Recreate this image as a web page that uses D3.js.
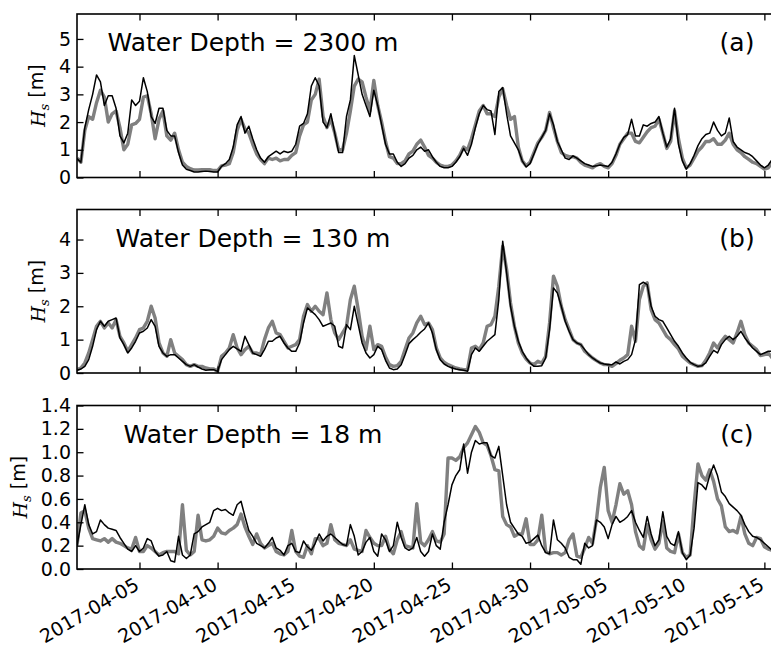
<!DOCTYPE html>
<html>
<head>
<meta charset="utf-8">
<script src="https://cdn.jsdelivr.net/npm/d3@7"></script>
<style>
  body { margin: 0; background: #fff; }
  svg { display: block; font-family: "DejaVu Sans", sans-serif; }
</style>
</head>
<body>
<svg id="chart" width="771" height="646"></svg>
<script>
// time axis: 6-hourly samples from 2017-04-01 00:00 UTC
const startDate = new Date(Date.UTC(2017, 3, 1));
const endDate = new Date(Date.UTC(2017, 4, 16));
const stepHours = 6;
const tickDates = ["2017-04-05", "2017-04-10", "2017-04-15", "2017-04-20", "2017-04-25",
                   "2017-04-30", "2017-05-05", "2017-05-10", "2017-05-15"];

const depthLabels = ["Water Depth = 2300 m", "Water Depth = 130 m", "Water Depth = 18 m"];
const panelTags = ["(a)", "(b)", "(c)"];
const yMaxes = [5.9, 4.9, 1.4];
const yTicksA = [0, 1, 2, 3, 4, 5];
const yTicksB = [0, 1, 2, 3, 4];
const yTicksC = [0, 0.2, 0.4, 0.6, 0.8, 1.0, 1.2, 1.4];

// (a) 2300 m — gray (thick) and black (thin) series
const gray2300 = [
  0.7,0.55,1.7,2.2, 2.1,2.7,3.15,2.9, 2.0,2.3,2.4,1.8, 1.0,1.2,1.9,1.95, 2.1,2.9,2.95,2.3,
  1.4,2.1,2.4,1.5, 1.35,1.6,1.0,0.55, 0.4,0.32,0.27,0.27, 0.28,0.28,0.28,0.25, 0.25,0.42,0.45,0.5,
  0.9,1.7,2.1,1.75, 1.6,1.2,0.85,0.65, 0.5,0.7,0.65,0.7, 0.6,0.65,0.65,0.8, 0.9,1.5,1.9,2.0,
  2.8,3.0,3.55,2.2, 1.8,2.1,1.6,1.0, 1.0,1.6,2.4,3.3, 3.55,3.45,2.9,2.4, 3.5,2.6,2.0,1.3,
  0.75,0.7,0.5,0.5, 0.6,0.85,0.95,1.2, 1.35,1.1,0.8,0.7, 0.55,0.45,0.4,0.4, 0.45,0.6,0.8,1.1,
  1.0,1.4,1.9,2.4, 2.6,2.3,2.3,2.2, 2.9,3.2,2.6,2.1, 2.2,1.1,0.6,0.42, 0.55,0.9,1.25,1.45,
  1.7,2.35,1.8,1.3, 0.9,0.8,0.75,0.75, 0.7,0.55,0.45,0.4, 0.35,0.45,0.5,0.4, 0.35,0.5,0.8,1.2,
  1.4,1.6,1.6,1.3, 1.25,1.45,1.65,1.8, 1.85,2.1,1.6,1.05, 1.3,2.4,1.4,0.7, 0.35,0.45,0.7,0.95,
  1.1,1.3,1.3,1.4, 1.2,1.2,1.35,1.6, 1.2,1.0,0.9,0.75, 0.65,0.55,0.5,0.4, 0.3,0.35,0.55,0.65,
  0.7
];
const black2300 = [
  0.68,0.55,1.8,2.45, 3.0,3.7,3.45,2.6, 2.95,2.95,2.5,1.5, 1.25,1.6,2.8,2.6, 2.75,3.6,3.1,2.2,
  1.95,2.5,2.5,1.7, 1.5,1.5,0.9,0.45, 0.3,0.25,0.2,0.2, 0.22,0.23,0.22,0.2, 0.2,0.4,0.5,0.65,
  1.1,1.9,2.2,1.6, 1.85,1.4,1.0,0.7, 0.55,0.75,0.85,0.95, 0.85,0.95,0.9,0.95, 1.2,1.85,1.95,2.3,
  3.3,3.6,3.3,2.0, 1.8,2.3,1.6,0.9, 0.9,2.2,2.8,4.4, 3.7,3.0,2.6,2.2, 3.15,2.6,1.9,1.2,
  0.85,0.85,0.55,0.4, 0.5,0.7,0.8,1.0, 1.1,0.95,1.0,0.75, 0.55,0.4,0.35,0.35, 0.4,0.55,0.75,1.05,
  0.8,1.2,1.8,2.3, 2.6,2.45,2.4,1.55, 3.1,3.25,2.3,1.5, 1.25,1.0,0.6,0.38, 0.5,0.85,1.2,1.45,
  1.7,2.3,1.9,1.3, 1.0,0.7,0.65,0.78, 0.7,0.6,0.5,0.45, 0.4,0.42,0.45,0.42, 0.4,0.55,0.85,1.2,
  1.45,1.55,2.1,1.5, 1.5,1.9,1.85,1.95, 2.0,2.2,1.6,1.1, 1.4,2.5,1.2,0.6, 0.3,0.5,0.8,1.15,
  1.4,1.55,1.6,2.0, 1.7,1.5,1.6,2.15, 1.3,1.1,1.0,0.9, 0.85,0.75,0.6,0.45, 0.35,0.45,0.65,0.75,
  0.8
];

// (b) 130 m
const gray130 = [
  0.1,0.15,0.3,0.6, 1.0,1.4,1.55,1.35, 1.5,1.35,1.6,1.1, 0.9,0.65,0.85,1.05, 1.3,1.35,1.55,2.0,
  1.65,0.9,0.6,0.5, 1.0,0.6,0.5,0.4, 0.25,0.2,0.25,0.2, 0.2,0.15,0.12,0.12, 0.05,0.5,0.6,0.75,
  1.15,0.75,0.55,0.7, 0.8,0.6,0.6,0.55, 1.0,1.35,1.55,1.2, 1.15,0.95,0.75,0.8, 0.85,1.0,1.7,2.05,
  1.85,2.0,1.85,1.75, 2.4,1.6,1.2,1.0, 1.2,1.4,2.2,2.6, 1.9,1.1,0.7,1.4, 0.7,0.85,0.8,0.48,
  0.25,0.2,0.22,0.35, 0.7,1.05,1.2,1.5, 1.7,1.45,1.5,1.3, 0.75,0.45,0.32,0.25, 0.2,0.15,0.12,0.1,
  0.1,0.75,0.8,0.7, 0.9,1.4,1.45,1.7, 2.6,3.8,3.1,2.1, 1.4,0.9,0.6,0.42, 0.3,0.25,0.35,0.3,
  0.5,1.5,2.9,2.6, 2.0,1.6,1.3,1.0, 0.9,0.85,0.65,0.55, 0.45,0.37,0.3,0.25, 0.25,0.2,0.28,0.38,
  0.45,0.55,1.4,0.95, 2.2,2.6,2.7,1.9, 1.6,1.5,1.3,1.1, 1.0,0.85,0.72,0.5, 0.4,0.3,0.25,0.2,
  0.22,0.38,0.6,0.9, 0.75,0.95,1.1,1.0, 0.9,1.2,1.55,1.15, 0.9,0.8,0.7,0.52, 0.55,0.6,0.45,0.5,
  0.5
];
const black130 = [
  0.08,0.12,0.2,0.4, 0.8,1.3,1.55,1.4, 1.55,1.6,1.65,1.05, 0.85,0.6,0.75,0.95, 1.2,1.25,1.35,1.6,
  1.4,0.8,0.6,0.5, 0.55,0.55,0.45,0.35, 0.25,0.2,0.25,0.18, 0.12,0.08,0.1,0.1, 0.05,0.4,0.55,0.7,
  0.8,0.72,0.65,1.1, 0.85,0.6,0.55,0.5, 0.7,0.95,0.95,1.05, 1.1,0.9,0.75,0.65, 0.65,0.9,1.5,1.95,
  1.85,1.75,1.6,1.4, 1.45,1.5,1.4,0.8, 0.75,1.45,1.3,2.0, 1.45,0.9,0.6,0.45, 0.55,0.8,0.7,0.38,
  0.15,0.1,0.12,0.25, 0.55,0.88,1.0,1.1, 1.22,1.32,1.5,1.2, 0.7,0.4,0.27,0.2, 0.15,0.12,0.1,0.08,
  0.05,0.55,0.75,0.65, 0.8,0.95,1.05,1.15, 2.2,3.95,3.0,2.0, 1.4,0.95,0.65,0.45, 0.3,0.2,0.2,0.22,
  0.45,1.3,2.55,2.4, 2.0,1.55,1.25,1.0, 0.9,0.85,0.7,0.55, 0.45,0.37,0.3,0.27, 0.25,0.25,0.33,0.27,
  0.35,0.4,0.55,1.0, 2.65,2.72,2.65,2.0, 1.7,1.6,1.55,1.35, 1.15,0.95,0.8,0.6, 0.45,0.32,0.25,0.2,
  0.22,0.3,0.5,0.68, 0.6,0.85,1.0,1.1, 1.0,1.1,1.25,1.05, 0.9,0.75,0.65,0.55, 0.6,0.65,0.65,0.7,
  0.7
];

// (c) 18 m
const gray18 = [
  0.2,0.48,0.5,0.35, 0.26,0.25,0.24,0.26, 0.23,0.26,0.23,0.22, 0.2,0.18,0.17,0.27, 0.15,0.15,0.2,0.18,
  0.15,0.12,0.14,0.15, 0.15,0.15,0.13,0.55, 0.16,0.12,0.15,0.46, 0.25,0.24,0.25,0.28, 0.35,0.31,0.3,0.33,
  0.35,0.38,0.47,0.36, 0.28,0.21,0.3,0.22, 0.18,0.2,0.22,0.15, 0.13,0.12,0.15,0.33, 0.15,0.11,0.1,0.2,
  0.13,0.26,0.26,0.2, 0.22,0.38,0.25,0.22, 0.21,0.2,0.25,0.17, 0.16,0.15,0.33,0.27, 0.22,0.2,0.2,0.28,
  0.17,0.13,0.25,0.32, 0.2,0.19,0.18,0.56, 0.23,0.2,0.25,0.32, 0.24,0.23,0.3,0.95, 0.95,0.93,0.96,1.04,
  1.08,1.15,1.22,1.17, 1.08,1.06,0.97,0.85, 0.84,0.45,0.38,0.36, 0.28,0.3,0.3,0.43, 0.21,0.21,0.25,0.46,
  0.15,0.13,0.14,0.14, 0.12,0.14,0.25,0.3, 0.11,0.1,0.18,0.27, 0.22,0.42,0.7,0.87, 0.5,0.4,0.55,0.73,
  0.64,0.67,0.55,0.32, 0.2,0.17,0.38,0.25, 0.17,0.22,0.41,0.18, 0.15,0.14,0.3,0.14, 0.1,0.12,0.55,0.9,
  0.8,0.76,0.85,0.75, 0.6,0.54,0.36,0.32, 0.33,0.31,0.45,0.3, 0.22,0.2,0.27,0.26, 0.19,0.17,0.16,0.15,
  0.15
];
const black18 = [
  0.2,0.38,0.55,0.38, 0.3,0.32,0.42,0.38, 0.35,0.34,0.33,0.27, 0.22,0.17,0.15,0.2, 0.15,0.18,0.26,0.24,
  0.15,0.11,0.12,0.15, 0.07,0.06,0.28,0.12, 0.09,0.12,0.3,0.32, 0.36,0.38,0.4,0.5, 0.52,0.5,0.51,0.48,
  0.46,0.55,0.58,0.45, 0.33,0.28,0.22,0.2, 0.18,0.22,0.27,0.18, 0.16,0.12,0.2,0.22, 0.15,0.14,0.24,0.19,
  0.16,0.22,0.3,0.24, 0.28,0.3,0.27,0.24, 0.21,0.2,0.38,0.28, 0.12,0.15,0.23,0.27, 0.15,0.11,0.3,0.25,
  0.15,0.2,0.4,0.27, 0.18,0.16,0.18,0.27, 0.15,0.11,0.15,0.3, 0.2,0.17,0.4,0.55, 0.72,0.8,0.85,1.07,
  0.82,1.0,1.1,1.07, 1.08,1.08,0.97,0.95, 1.05,0.8,0.55,0.4, 0.35,0.3,0.28,0.22, 0.23,0.26,0.29,0.2,
  0.14,0.13,0.42,0.25, 0.22,0.18,0.1,0.08, 0.08,0.04,0.22,0.18, 0.2,0.42,0.4,0.36, 0.26,0.38,0.45,0.4,
  0.42,0.45,0.5,0.4, 0.33,0.27,0.45,0.3, 0.2,0.25,0.49,0.28, 0.22,0.2,0.32,0.14, 0.08,0.12,0.35,0.74,
  0.72,0.68,0.8,0.89, 0.8,0.66,0.62,0.56, 0.53,0.5,0.46,0.38, 0.32,0.28,0.27,0.25, 0.22,0.19,0.16,0.16,
  0.15
];

const times = d3.range(gray2300.length).map(i => d3.utcHour.offset(startDate, i * stepHours));

const panels = [
  { label: depthLabels[0], tag: panelTags[0], gray: gray2300, black: black2300, yMax: yMaxes[0], ticks: yTicksA, fmt: d3.format("d"), top: 14, ylabX: 45 },
  { label: depthLabels[1], tag: panelTags[1], gray: gray130, black: black130, yMax: yMaxes[1], ticks: yTicksB, fmt: d3.format("d"), top: 209.5, ylabX: 45 },
  { label: depthLabels[2], tag: panelTags[2], gray: gray18, black: black18, yMax: yMaxes[2], ticks: yTicksC, fmt: d3.format(".1f"), top: 405.5, ylabX: 27 }
];

const left = 77, right = 780, panelH = 163.5;
const svg = d3.select("#chart");

const x = d3.scaleUtc().domain([startDate, endDate]).range([left, right]);
const parseDay = d3.utcParse("%Y-%m-%d");
const xTicks = tickDates.map(parseDay);

panels.forEach((p, i) => {
  const bottom = p.top + panelH;
  const y = d3.scaleLinear().domain([0, p.yMax]).range([bottom, p.top]);
  const g = svg.append("g");

  g.append("clipPath").attr("id", "clip" + i)
    .append("rect").attr("x", left).attr("y", p.top).attr("width", right - left).attr("height", panelH);

  const line = d3.line().x((d, k) => x(times[k])).y(d => y(d));

  const plot = g.append("g").attr("clip-path", `url(#clip${i})`);
  plot.append("path").datum(p.gray)
    .attr("d", line).attr("fill", "none")
    .attr("stroke", "#808080").attr("stroke-width", 3.4).attr("stroke-linejoin", "round");
  plot.append("path").datum(p.black)
    .attr("d", line).attr("fill", "none")
    .attr("stroke", "#000").attr("stroke-width", 1.5).attr("stroke-linejoin", "round");

  // axes with inward ticks
  const yAxis = g.append("g").attr("transform", `translate(${left},0)`)
    .call(d3.axisLeft(y).tickValues(p.ticks).tickFormat(p.fmt).tickSize(-6.5).tickPadding(6));
  yAxis.select(".domain").remove();
  yAxis.selectAll("line").attr("stroke-width", 1.3);
  yAxis.selectAll("text").attr("font-size", 19).attr("font-family", "DejaVu Sans").attr("fill", "#000");

  const xBottom = g.append("g").attr("transform", `translate(0,${bottom})`)
    .call(d3.axisBottom(x).tickValues(xTicks).tickFormat("").tickSize(-6.5));
  xBottom.select(".domain").remove();
  xBottom.selectAll("line").attr("stroke-width", 1.3);

  const xTop = g.append("g").attr("transform", `translate(0,${p.top})`)
    .call(d3.axisTop(x).tickValues(xTicks).tickFormat("").tickSize(-6.5));
  xTop.select(".domain").remove();
  xTop.selectAll("line").attr("stroke-width", 1.3);

  // frame
  g.append("rect").attr("x", left).attr("y", p.top).attr("width", right - left).attr("height", panelH)
    .attr("fill", "none").attr("stroke", "#000").attr("stroke-width", 1.6);

  // texts
  g.append("text").attr("x", 253).attr("y", p.top + 37)
    .attr("text-anchor", "middle").attr("font-size", 25).text(p.label);
  g.append("text").attr("x", 737).attr("y", p.top + 37)
    .attr("text-anchor", "middle").attr("font-size", 25).text(p.tag);

  const ylab = g.append("text")
    .attr("transform", `translate(${p.ylabX},${(p.top + bottom) / 2}) rotate(-90)`)
    .attr("text-anchor", "middle").attr("font-size", 19);
  ylab.append("tspan").attr("font-family", "DejaVu Serif").attr("font-style", "italic").text("H");
  ylab.append("tspan").attr("font-family", "DejaVu Serif").attr("font-style", "italic")
    .attr("font-size", 13).attr("dy", "0.3em").text("s");
  ylab.append("tspan").attr("dy", "-0.3em").text("\u00a0[m]");

  if (i === panels.length - 1) {
    g.selectAll(".date-label").data(xTicks).join("text")
      .attr("class", "date-label")
      .attr("transform", d => `translate(${x(d) + 1},${bottom + 19.5}) rotate(-30)`)
      .attr("text-anchor", "end").attr("font-size", 19)
      .text(d3.utcFormat("%Y-%m-%d"));
  }
});
</script>
</body>
</html>
